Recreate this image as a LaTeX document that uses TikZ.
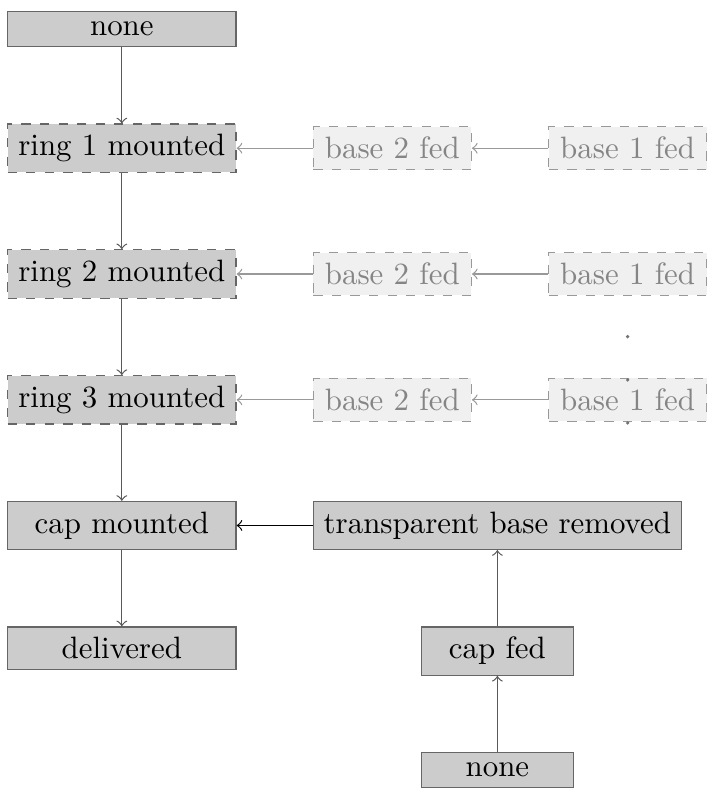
\documentclass[tikz,border=0pt]{standalone}
\usetikzlibrary{positioning}
\begin{document}
\begin{tikzpicture}[
  node distance=24.65pt,
  state/.style={draw=black!60, fill=black!20, text=black, minimum width=73.9pt},
  pending/.style={state, dashed},
  ghost/.style={draw=black!40, dashed, fill=black!6, text=black!48, minimum width=51.1pt},
  side/.style={draw=black!60, fill=black!20, text=black, minimum width=49.2pt},
  flow/.style={->, draw=black!65},
  feed/.style={->, draw=black!40},
  mainfeed/.style={->, draw=black},
  dotmark/.style={fill=black!55, draw=none}
]
\useasboundingbox (0,0) rectangle (228.8pt,-258.25pt);

% main assembly line
\node[state] (start) at (39.43pt,-9.45pt) {none};
\node[pending, below=of start] (r1) {ring 1 mounted};
\node[pending, below=of r1] (r2) {ring 2 mounted};
\node[pending, below=of r2] (r3) {ring 3 mounted};
\node[state, below=of r3] (cap) {cap mounted};
\node[state, below=of cap] (done) {delivered};

% base feeders for each ring
\node[ghost, right=of r1] (b2a) {base 2 fed};
\node[ghost, right=of b2a] (b1a) {base 1 fed};
\node[ghost, right=of r2] (b2b) {base 2 fed};
\node[ghost, right=of b2b] (b1b) {base 1 fed};
\node[ghost, right=of r3] (b2c) {base 2 fed};
\node[ghost, right=of b2c] (b1c) {base 1 fed};

% cap feeder branch
\node[state, right=of cap] (tbr) {transparent base removed};
\node[side, below=of tbr] (capfed) {cap fed};
\node[side, below=of capfed] (start2) {none};

% connectors
\draw[flow] (start) -- (r1);
\draw[flow] (r1) -- (r2);
\draw[flow] (r2) -- (r3);
\draw[flow] (r3) -- (cap);
\draw[flow] (cap) -- (done);

\draw[feed] (b2a) -- (r1);
\draw[feed] (b1a) -- (b2a);
\draw[feed] (b2b) -- (r2);
\draw[feed] (b1b) -- (b2b);
\draw[feed] (b2c) -- (r3);
\draw[feed] (b1c) -- (b2c);

\draw[mainfeed] (tbr) -- (cap);
\draw[flow] (capfed) -- (tbr);
\draw[flow] (start2) -- (capfed);

% vertical ellipsis over the last base feeder
\coordinate (ell) at (b1c.center);
\fill[dotmark] ([yshift=20.45pt]ell) circle (0.6pt);
\fill[dotmark] ([yshift=6.44pt]ell) circle (0.6pt);
\fill[dotmark] ([yshift=-7.48pt]ell) circle (0.6pt);
\end{tikzpicture}
\end{document}
